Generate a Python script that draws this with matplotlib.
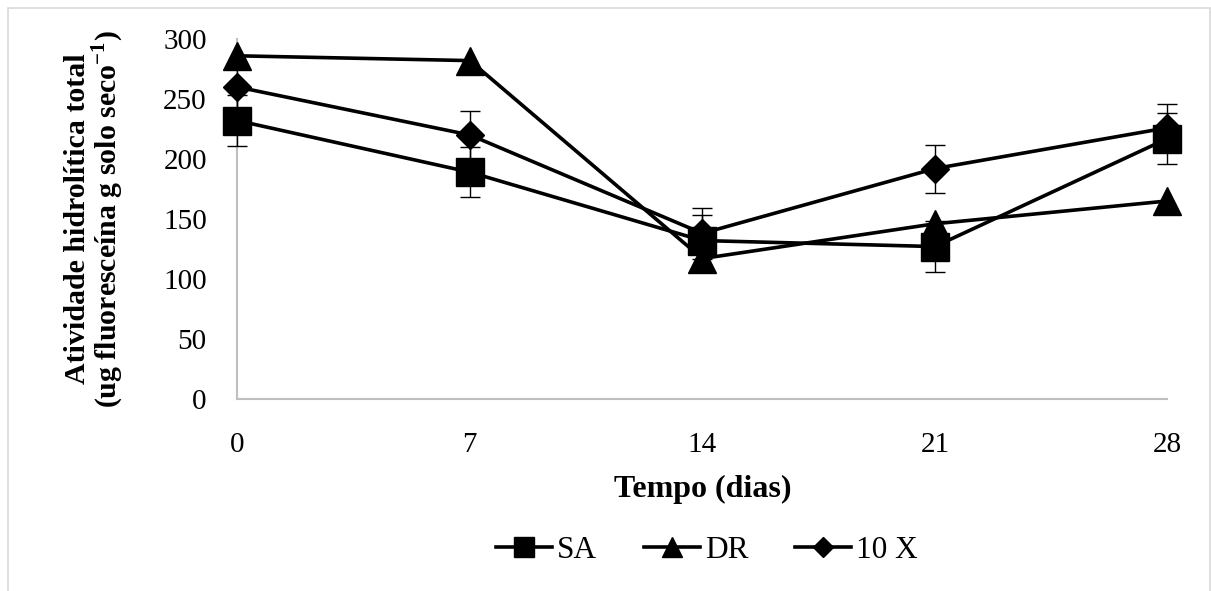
import matplotlib
matplotlib.use("Agg")
import matplotlib.pyplot as plt
from matplotlib.patches import Rectangle
from matplotlib.lines import Line2D

plt.rcParams['font.family'] = ['Liberation Serif', 'DejaVu Serif']
plt.rcParams['mathtext.fontset'] = 'custom'
plt.rcParams['mathtext.rm'] = 'Liberation Serif'
plt.rcParams['mathtext.bf'] = 'Liberation Serif:bold'

# NOTE data
days = [0, 7, 14, 21, 28]
sa = [232, 189, 132, 127, 217]
sa_err = [21, 21, 21, 21, 21]
dr = [286, 282, 117, 146, 165]
x10 = [260, 220, 138, 192, 226]
x10_err = [20, 20, 21, 20, 20]

fig = plt.figure(figsize=(12.11, 5.91), dpi=100)
ax = fig.add_axes([0.196, 0.325, 0.768, 0.609])

lw = 2.6
ax.errorbar(days, sa, yerr=sa_err, color='black', lw=lw, marker='s', ms=20,
            ecolor='black', elinewidth=1.0, capsize=7, capthick=1.0,
            clip_on=False, zorder=3)
ax.plot(days, dr, color='black', lw=lw, marker='^', ms=20,
        clip_on=False, zorder=3)
ax.errorbar(days, x10, yerr=x10_err, color='black', lw=lw, marker='D', ms=14,
            ecolor='black', elinewidth=1.0, capsize=7, capthick=1.0,
            clip_on=False, zorder=3)

ax.set_xlim(0, 28)
ax.set_ylim(0, 300)
ax.set_xticks(days)
ax.set_yticks(range(0, 301, 50))
ax.tick_params(axis='both', length=0, labelsize=21)
ax.tick_params(axis='x', pad=24)
ax.tick_params(axis='y', pad=22)
for s in ['top', 'right']:
    ax.spines[s].set_visible(False)
for s in ['left', 'bottom']:
    ax.spines[s].set_color('#bfbfbf')
    ax.spines[s].set_linewidth(1.5)

ax.set_xlabel('Tempo (dias)', fontsize=23, fontweight='bold', labelpad=12)
ax.set_ylabel('Atividade hidrolítica total\n(ug fluoresceína g solo seco$^{\\mathbf{-1}}$)',
              fontsize=21.5, fontweight='bold', labelpad=27, linespacing=0.95)

handles = [
    Line2D([], [], color='black', lw=lw, marker='s', ms=14),
    Line2D([], [], color='black', lw=lw, marker='^', ms=14),
    Line2D([], [], color='black', lw=lw, marker='D', ms=10),
]
ax.legend(handles, ['SA', 'DR', '10 X'], loc='center', bbox_to_anchor=(0.505, -0.42),
          ncol=3, frameon=False, fontsize=22.5, handlelength=1.8,
          handletextpad=0.15, columnspacing=1.5)

fig.patches.append(Rectangle((0.007, -0.01), 0.992, 0.997, transform=fig.transFigure,
                             fill=False, edgecolor='#d9d9d9', lw=1.2))

fig.savefig('out.png', dpi=100)
